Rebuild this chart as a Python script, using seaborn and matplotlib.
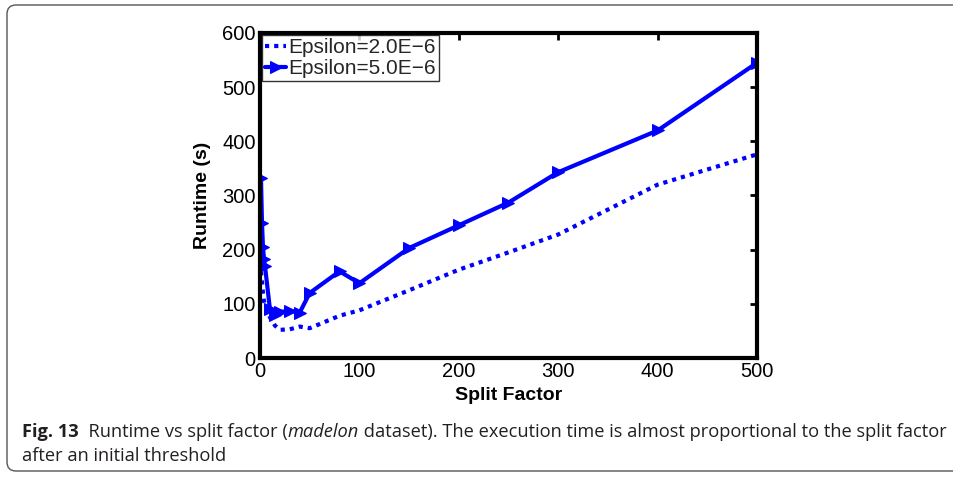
import matplotlib
matplotlib.use("Agg")
import matplotlib.pyplot as plt
from matplotlib.patches import FancyBboxPatch
from matplotlib.font_manager import FontProperties, findfont
import seaborn as sns
import pandas as pd

# Split factors evaluated and measured runtimes (seconds)
split_small = [1, 2, 3, 4, 5, 10, 15, 20, 30, 40, 50, 80, 100, 150, 200, 250, 300, 400, 500]
runtime_eps_2e6 = [160, 140, 120, 105, 100, 75, 60, 52, 53, 58, 55, 78, 88, 125, 163, 195, 228, 320, 376]

split_large = [1, 2, 3, 4, 5, 10, 15, 20, 30, 40, 50, 80, 100, 150, 200, 250, 300, 400, 500]
runtime_eps_5e6 = [332, 249, 205, 183, 170, 90, 80, 85, 87, 84, 120, 160, 138, 203, 245, 287, 343, 420, 545]

labels = ["Epsilon=2.0E\u22126", "Epsilon=5.0E\u22126"]

sns.set_theme(style="white")
plt.rcParams["font.family"] = ["Liberation Sans", "DejaVu Sans"]

W, H = 954, 478
fig = plt.figure(figsize=(W / 100, H / 100), dpi=100)

# Rounded frame around the whole figure, drawn in pixel coordinates
bg = fig.add_axes([0, 0, 1, 1], zorder=-1)
bg.set_xlim(0, W)
bg.set_ylim(H, 0)
bg.axis("off")
bg.add_patch(FancyBboxPatch((7, 5), 960, 466,
                            boxstyle="round,pad=0,rounding_size=9",
                            fill=False, edgecolor="#555555", linewidth=1.0,
                            clip_on=False))

ax = fig.add_axes([260 / W, 1 - 358 / H, 497 / W, 325 / H])

df1 = pd.DataFrame({"split": split_small, "runtime": runtime_eps_2e6})
df2 = pd.DataFrame({"split": split_large, "runtime": runtime_eps_5e6})

sns.lineplot(data=df1, x="split", y="runtime", sort=False, ax=ax,
             color="#0000ff", linewidth=3, linestyle=(0, (1, 1.2)), label=labels[0])
sns.lineplot(data=df2, x="split", y="runtime", sort=False, ax=ax,
             color="#0000ff", linewidth=3, marker=">", markersize=8,
             markeredgecolor="#0000ff", label=labels[1])

ax.set_xlim(0, 500)
ax.set_ylim(0, 600)
ax.set_xticks(range(0, 501, 100))
ax.set_yticks(range(0, 601, 100))
ax.tick_params(axis="both", which="both", direction="in", length=5, width=2,
               top=True, right=True, labelsize=14.5, colors="black", pad=3)
for sp in ax.spines.values():
    sp.set_visible(True)
    sp.set_color("black")
    sp.set_linewidth(3)

ax.set_xlabel("Split Factor", fontsize=14, fontweight="bold", color="black", labelpad=4)
ax.set_ylabel("Runtime (s)", fontsize=14, fontweight="bold", color="black", labelpad=8)

leg = ax.legend(loc="upper left", fontsize=15, frameon=True, fancybox=False,
                borderpad=0.15, labelspacing=0.1, handlelength=1.0,
                handletextpad=0.1, borderaxespad=0.1, edgecolor="black")
leg.get_frame().set_linewidth(1)

# Caption with mixed bold / regular / italic runs, sized to span the frame
fam = "Liberation Sans Narrow"
try:
    findfont(FontProperties(family=fam), fallback_to_default=False)
    cap_font = [fam, "DejaVu Sans"]
except Exception:
    cap_font = ["Open Sans", "DejaVu Sans"]

runs = [("Fig. 13", "bold", "normal"),
        ("  Runtime vs split factor (", "normal", "normal"),
        ("madelon", "normal", "italic"),
        (" dataset). The execution time is almost proportional to the split factor", "normal", "normal")]
fig.canvas.draw()
renderer = fig.canvas.get_renderer()


def place_caption(size):
    x = 22
    made = []
    for txt, w, st in runs:
        t = fig.text(x / W, 1 - 432 / H, txt, fontsize=size, fontweight=w, fontstyle=st,
                     family=cap_font, color="#231f20", va="center", ha="left")
        x += t.get_window_extent(renderer=renderer).width
        made.append(t)
    return x, made


end, made = place_caption(13)
for t in made:
    t.remove()
size = 13 * (945 - 22) / (end - 22)
place_caption(size)
fig.text(22 / W, 1 - 456 / H, "after an initial threshold", fontsize=size,
         family=cap_font, color="#231f20", va="center", ha="left")

fig.savefig("out.png", dpi=100)
